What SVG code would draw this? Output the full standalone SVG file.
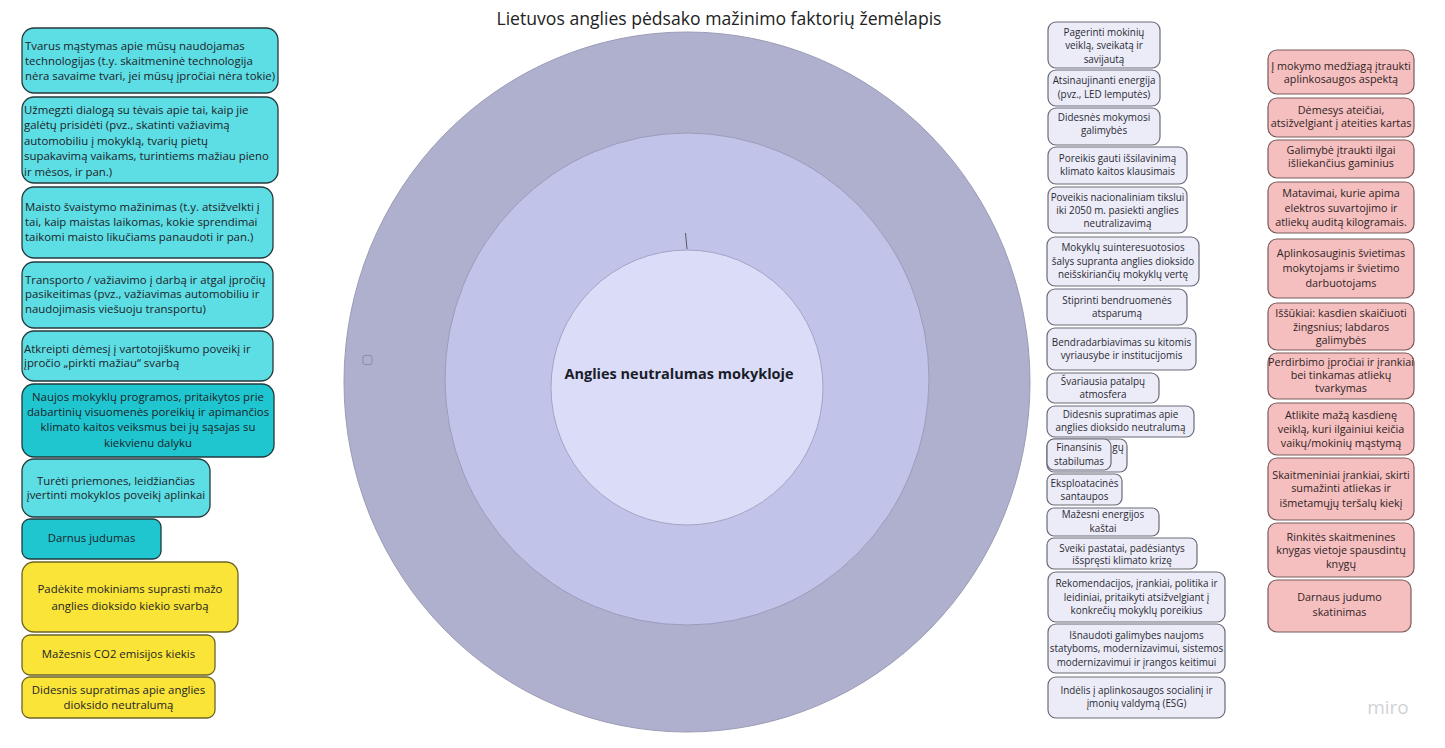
<svg xmlns="http://www.w3.org/2000/svg" width="1445" height="748" viewBox="0 0 1445 748">
<style>
text{font-family:"Open Sans","Noto Sans","DejaVu Sans",sans-serif;fill:#1d2328}
.title{font-size:17.6px;text-anchor:middle;fill:#222}
.center{font-size:14.5px;font-weight:bold;text-anchor:middle;fill:#1a1c2a}
.cy rect{fill:#5ddde4;stroke:#26393c;stroke-width:1.3}
.cyd rect{fill:#1fc6d0;stroke:#203a3e;stroke-width:1.3}
.yl rect{fill:#f9e437;stroke:#6e6426;stroke-width:1.3}
.lv rect{fill:#ececf8;stroke:#6a6a78;stroke-width:1.2}
.pk rect{fill:#f5bfbf;stroke:#7a5a5a;stroke-width:1.2}
.tl{font-size:11.4px}
.tm{font-size:11.4px;text-anchor:middle}
.tr{font-size:9.9px;text-anchor:middle;fill:#2a2a33}
.tp{font-size:10.8px;text-anchor:middle;fill:#2f2424}
.conn{stroke:#55586a;stroke-width:1;fill:none}
</style>

<rect x="0" y="0" width="1445" height="748" fill="#ffffff"/>

<text class="title" x="719" y="25">Lietuvos anglies pėdsako mažinimo faktorių žemėlapis</text>

<g id="rings">
  <ellipse cx="687" cy="382" rx="343" ry="350" fill="#aeb0cd" stroke="#9a9cb6" stroke-width="1"/>
  <ellipse cx="687" cy="379" rx="242" ry="246" fill="#c1c3e8" stroke="#9a9cbc" stroke-width="1"/>
  <ellipse cx="687" cy="387.5" rx="136" ry="137.5" fill="#dadcf8" stroke="#a3a5c4" stroke-width="1"/>
  <rect x="363" y="355.5" width="9" height="9" rx="2" fill="none" stroke="#8c8ea4" stroke-width="1"/>
</g>

<g id="connectors">
  <line class="conn" x1="685.5" y1="233" x2="687" y2="249"/>
</g>

<g id="center-node">
  <text class="center" x="679" y="378.5">Anglies neutralumas mokykloje</text>
</g>

<!-- Left column -->
<g id="l1" class="cy">
  <rect x="22" y="28" width="256" height="65" rx="12"/>
  <text class="tl" x="25" y="49.5">Tvarus mąstymas apie mūsų naudojamas</text>
  <text class="tl" x="25" y="64.5">technologijas (t.y. skaitmeninė technologija</text>
  <text class="tl" x="25" y="79.5">nėra savaime tvari, jei mūsų įpročiai nėra tokie)</text>
</g>
<g id="l2" class="cy">
  <rect x="22" y="97" width="256" height="86" rx="12"/>
  <text class="tl" x="24" y="114">Užmegzti dialogą su tėvais apie tai, kaip jie</text>
  <text class="tl" x="24" y="129.4">galėtų prisidėti (pvz., skatinti važiavimą</text>
  <text class="tl" x="24" y="144.8">automobiliu į mokyklą, tvarių pietų</text>
  <text class="tl" x="24" y="160.2">supakavimą vaikams, turintiems mažiau pieno</text>
  <text class="tl" x="24" y="175.6">ir mėsos, ir pan.)</text>
</g>
<g id="l3" class="cy">
  <rect x="22" y="187" width="251" height="71" rx="12"/>
  <text class="tl" x="25" y="210.7">Maisto švaistymo mažinimas (t.y. atsižvelkti į</text>
  <text class="tl" x="25" y="225.7">tai, kaip maistas laikomas, kokie sprendimai</text>
  <text class="tl" x="25" y="241.3">taikomi maisto likučiams panaudoti ir pan.)</text>
</g>
<g id="l4" class="cy">
  <rect x="22" y="262" width="251" height="66" rx="12"/>
  <text class="tl" x="25" y="284">Transporto / važiavimo į darbą ir atgal įpročių</text>
  <text class="tl" x="25" y="298.3">pasikeitimas (pvz., važiavimas automobiliu ir</text>
  <text class="tl" x="25" y="313">naudojimasis viešuoju transportu)</text>
</g>
<g id="l5" class="cy">
  <rect x="22" y="331" width="251" height="50" rx="12"/>
  <text class="tl" x="24" y="353">Atkreipti dėmesį į vartotojiškumo poveikį ir</text>
  <text class="tl" x="24" y="367.3">įpročio „pirkti mažiau“ svarbą</text>
</g>
<g id="l6" class="cyd">
  <rect x="22" y="384" width="252" height="73" rx="12"/>
  <text class="tm" x="148" y="400.7">Naujos mokyklų programos, pritaikytos prie</text>
  <text class="tm" x="148" y="415.7">dabartinių visuomenės poreikių ir apimančios</text>
  <text class="tm" x="148" y="430.7">klimato kaitos veiksmus bei jų sąsajas su</text>
  <text class="tm" x="148" y="446.7">kiekvienu dalyku</text>
</g>
<g id="l7" class="cy">
  <rect x="22" y="459" width="188" height="58" rx="12"/>
  <text class="tm" x="116" y="485">Turėti priemones, leidžiančias</text>
  <text class="tm" x="116" y="499">įvertinti mokyklos poveikį aplinkai</text>
</g>
<g id="l8" class="cyd">
  <rect x="22" y="519" width="139" height="40" rx="8"/>
  <text class="tm" x="91.5" y="542.3">Darnus judumas</text>
</g>
<g id="l9" class="yl">
  <rect x="22" y="562" width="216" height="70" rx="12"/>
  <text class="tm" x="130" y="593">Padėkite mokiniams suprasti mažo</text>
  <text class="tm" x="130" y="609.7">anglies dioksido kiekio svarbą</text>
</g>
<g id="l10" class="yl">
  <rect x="22" y="635" width="193" height="40" rx="8"/>
  <text class="tm" x="118.5" y="658.3">Mažesnis CO2 emisijos kiekis</text>
</g>
<g id="l11" class="yl">
  <rect x="22" y="677" width="193" height="41" rx="8"/>
  <text class="tm" x="118.5" y="694">Didesnis supratimas apie anglies</text>
  <text class="tm" x="118.5" y="709">dioksido neutralumą</text>
</g>

<!-- Middle-right column -->
<g id="r1" class="lv">
  <rect x="1048" y="22" width="112" height="46" rx="8"/>
  <text class="tr" x="1104" y="35.5">Pagerinti mokinių</text>
  <text class="tr" x="1104" y="49">veiklą, sveikatą ir</text>
  <text class="tr" x="1104" y="62.5">savijautą</text>
</g>
<g id="r2" class="lv">
  <rect x="1048" y="70" width="112" height="36" rx="8"/>
  <text class="tr" x="1104" y="84">Atsinaujinanti energija</text>
  <text class="tr" x="1104" y="97.5">(pvz., LED lemputės)</text>
</g>
<g id="r3" class="lv">
  <rect x="1048" y="108" width="112" height="37" rx="8"/>
  <text class="tr" x="1104" y="120.5">Didesnės mokymosi</text>
  <text class="tr" x="1104" y="134">galimybės</text>
</g>
<g id="r4" class="lv">
  <rect x="1048" y="147" width="139" height="37" rx="8"/>
  <text class="tr" x="1117.5" y="161.5">Poreikis gauti išsilavinimą</text>
  <text class="tr" x="1117.5" y="175">klimato kaitos klausimais</text>
</g>
<g id="r5" class="lv">
  <rect x="1048" y="187" width="139" height="46" rx="8"/>
  <text class="tr" x="1117.5" y="200.5">Poveikis nacionaliniam tikslui</text>
  <text class="tr" x="1117.5" y="213.5">iki 2050 m. pasiekti anglies</text>
  <text class="tr" x="1117.5" y="227">neutralizavimą</text>
</g>
<g id="r6" class="lv">
  <rect x="1047" y="237" width="152" height="49" rx="8"/>
  <text class="tr" x="1123" y="250.5">Mokyklų suinteresuotosios</text>
  <text class="tr" x="1123" y="264.5">šalys supranta anglies dioksido</text>
  <text class="tr" x="1123" y="277.5">neišskiriančių mokyklų vertę</text>
</g>
<g id="r7" class="lv">
  <rect x="1047" y="289" width="140" height="36" rx="8"/>
  <text class="tr" x="1117" y="303.5">Stiprinti bendruomenės</text>
  <text class="tr" x="1117" y="317">atsparumą</text>
</g>
<g id="r8" class="lv">
  <rect x="1047" y="328" width="149" height="42" rx="8"/>
  <text class="tr" x="1121.5" y="345.5">Bendradarbiavimas su kitomis</text>
  <text class="tr" x="1121.5" y="359">vyriausybe ir institucijomis</text>
</g>
<g id="r9" class="lv">
  <rect x="1047" y="373" width="112" height="30" rx="8"/>
  <text class="tr" x="1103" y="384.5">Švariausia patalpų</text>
  <text class="tr" x="1103" y="397.5">atmosfera</text>
</g>
<g id="r10" class="lv">
  <rect x="1047" y="406" width="147" height="31" rx="8"/>
  <text class="tr" x="1120.5" y="417.5">Didesnis supratimas apie</text>
  <text class="tr" x="1120.5" y="430.5">anglies dioksido neutralumą</text>
</g>
<g id="r11" class="lv">
  <rect x="1047" y="439" width="80" height="33" rx="7"/>
  <text class="tr" x="1118" y="450.5">gų</text>
</g>
<g id="r12" class="lv">
  <rect x="1047" y="439" width="64" height="31" rx="7"/>
  <text class="tr" x="1079" y="450.5">Finansinis</text>
  <text class="tr" x="1079" y="465">stabilumas</text>
</g>
<g id="r13" class="lv">
  <rect x="1047" y="474" width="75" height="31" rx="7"/>
  <text class="tr" x="1084.5" y="486.5">Eksploatacinės</text>
  <text class="tr" x="1084.5" y="499.5">santaupos</text>
</g>
<g id="r14" class="lv">
  <rect x="1047" y="508" width="112" height="28" rx="7"/>
  <text class="tr" x="1103" y="517.5">Mažesni energijos</text>
  <text class="tr" x="1103" y="531.5">kaštai</text>
</g>
<g id="r15" class="lv">
  <rect x="1047" y="538" width="150" height="31" rx="7"/>
  <text class="tr" x="1122" y="551.5">Sveiki pastatai, padėsiantys</text>
  <text class="tr" x="1122" y="563.5">išspręsti klimato krizę</text>
</g>
<g id="r16" class="lv">
  <rect x="1048" y="572" width="177" height="50" rx="8"/>
  <text class="tr" x="1136.5" y="586.5">Rekomendacijos, įrankiai, politika ir</text>
  <text class="tr" x="1136.5" y="600.5">leidiniai, pritaikyti atsižvelgiant į</text>
  <text class="tr" x="1136.5" y="613.5">konkrečių mokyklų poreikius</text>
</g>
<g id="r17" class="lv">
  <rect x="1048" y="624" width="177" height="49" rx="8"/>
  <text class="tr" x="1136.5" y="638.5">Išnaudoti galimybes naujoms</text>
  <text class="tr" x="1136.5" y="651.5">statyboms, modernizavimui, sistemos</text>
  <text class="tr" x="1136.5" y="665.5">modernizavimui ir įrangos keitimui</text>
</g>
<g id="r18" class="lv">
  <rect x="1048" y="677" width="177" height="41" rx="8"/>
  <text class="tr" x="1136.5" y="693.5">Indėlis į aplinkosaugos socialinį ir</text>
  <text class="tr" x="1136.5" y="706.5">įmonių valdymą (ESG)</text>
</g>

<!-- Pink column -->
<g id="p1" class="pk">
  <rect x="1268" y="50" width="146" height="44" rx="9"/>
  <text class="tp" x="1341" y="69.5">Į mokymo medžiagą įtraukti</text>
  <text class="tp" x="1341" y="82.5">aplinkosaugos aspektą</text>
</g>
<g id="p2" class="pk">
  <rect x="1268" y="98" width="146" height="39" rx="9"/>
  <text class="tp" x="1341" y="113.5">Dėmesys ateičiai,</text>
  <text class="tp" x="1341" y="126.5">atsižvelgiant į ateities kartas</text>
</g>
<g id="p3" class="pk">
  <rect x="1268" y="140" width="146" height="38" rx="9"/>
  <text class="tp" x="1341" y="153.5">Galimybė įtraukti ilgai</text>
  <text class="tp" x="1341" y="166.5">išliekančius gaminius</text>
</g>
<g id="p4" class="pk">
  <rect x="1268" y="182" width="146" height="51" rx="9"/>
  <text class="tp" x="1341" y="196.5">Matavimai, kurie apima</text>
  <text class="tp" x="1341" y="211.5">elektros suvartojimo ir</text>
  <text class="tp" x="1341" y="225.5">atliekų auditą kilogramais.</text>
</g>
<g id="p5" class="pk">
  <rect x="1268" y="239" width="146" height="59" rx="9"/>
  <text class="tp" x="1341" y="256.5">Aplinkosauginis švietimas</text>
  <text class="tp" x="1341" y="271.5">mokytojams ir švietimo</text>
  <text class="tp" x="1341" y="286.5">darbuotojams</text>
</g>
<g id="p6" class="pk">
  <rect x="1268" y="303" width="146" height="47" rx="9"/>
  <text class="tp" x="1341" y="316.5">Iššūkiai: kasdien skaičiuoti</text>
  <text class="tp" x="1341" y="330.5">žingsnius; labdaros</text>
  <text class="tp" x="1341" y="343.5">galimybės</text>
</g>
<g id="p7" class="pk">
  <rect x="1268" y="353" width="146" height="46" rx="9"/>
  <text class="tp" x="1341" y="365.5">Perdirbimo įpročiai ir įrankiai</text>
  <text class="tp" x="1341" y="378.5">bei tinkamas atliekų</text>
  <text class="tp" x="1341" y="391.5">tvarkymas</text>
</g>
<g id="p8" class="pk">
  <rect x="1268" y="403" width="146" height="52" rx="9"/>
  <text class="tp" x="1341" y="418.5">Atlikite mažą kasdienę</text>
  <text class="tp" x="1341" y="432.5">veiklą, kuri ilgainiui keičia</text>
  <text class="tp" x="1341" y="446.5">vaikų/mokinių mąstymą</text>
</g>
<g id="p9" class="pk">
  <rect x="1268" y="458" width="146" height="62" rx="9"/>
  <text class="tp" x="1341" y="478.5">Skaitmeniniai įrankiai, skirti</text>
  <text class="tp" x="1341" y="491.5">sumažinti atliekas ir</text>
  <text class="tp" x="1341" y="506.5">išmetamųjų teršalų kiekį</text>
</g>
<g id="p10" class="pk">
  <rect x="1268" y="523" width="146" height="54" rx="9"/>
  <text class="tp" x="1341" y="540.5">Rinkitės skaitmenines</text>
  <text class="tp" x="1341" y="553.5">knygas vietoje spausdintų</text>
  <text class="tp" x="1341" y="567.5">knygų</text>
</g>
<g id="p11" class="pk">
  <rect x="1268" y="580" width="143" height="52" rx="9"/>
  <text class="tp" x="1339.5" y="600.5">Darnaus judumo</text>
  <text class="tp" x="1339.5" y="615.5">skatinimas</text>
</g>

<text x="1388" y="714" style="font-size:19px;fill:#d2d2d6;text-anchor:middle;font-family:'Open Sans','Noto Sans',sans-serif">miro</text>
</svg>
